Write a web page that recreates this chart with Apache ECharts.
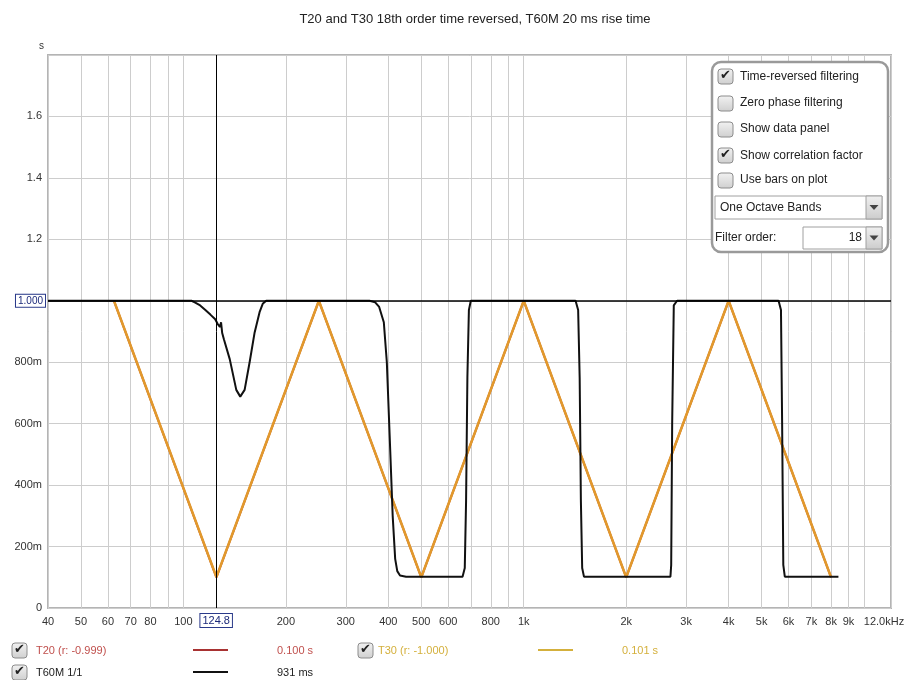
<!DOCTYPE html>
<html>
<head>
<meta charset="utf-8">
<script src="https://cdn.jsdelivr.net/npm/echarts@6/dist/echarts.min.js"></script>
<style>
  html, body { margin: 0; padding: 0; background: #fff; }
  #chart { width: 909px; height: 680px; }
</style>
</head>
<body>
<div id="chart"></div>
<script>
// octave band decay times (s)
const bandFreqs = [62.5, 125, 250, 500, 1000, 2000, 4000, 8000];
const t20Values = [1.0, 0.1, 1.0, 0.1, 1.0, 0.1, 1.0, 0.1];
const t30Values = [1.0, 0.101, 1.0, 0.1, 1.0, 0.1, 1.0, 0.1];

// T60M trace
const t60mFreqs = [40, 105.6, 108, 112, 116, 120, 124, 126, 128, 129, 130, 131.5, 136.8, 143, 146.9, 151.3, 156.5, 161.9, 167.4, 171, 175.1,
  352, 366, 376, 388, 396, 404, 412, 419, 425, 433, 451, 661, 671, 677, 683, 690, 699,
  1420, 1445, 1460, 1472, 1485, 1503, 2698, 2712, 2730, 2760, 2822, 5608, 5700, 5745, 5790, 5850, 8408];
const t60mValues = [1.0, 1.0, 0.995, 0.985, 0.97, 0.955, 0.94, 0.925, 0.915, 0.93, 0.895, 0.875, 0.81, 0.71, 0.688, 0.71, 0.8, 0.897, 0.963, 0.99, 1.0,
  1.0, 0.995, 0.98, 0.93, 0.8, 0.55, 0.3, 0.16, 0.12, 0.106, 0.102, 0.102, 0.13, 0.35, 0.75, 0.97, 1.0,
  1.0, 0.97, 0.75, 0.35, 0.13, 0.102, 0.102, 0.14, 0.6, 0.985, 1.0, 1.0, 0.97, 0.6, 0.14, 0.102, 0.102];

const gridFreqs = [40, 50, 60, 70, 80, 90, 100, 200, 300, 400, 500, 600, 700, 800, 900,
  1000, 2000, 3000, 4000, 5000, 6000, 7000, 8000, 9000, 10000, 12000];
const labelFreqs = [40, 50, 60, 70, 80, 100, 200, 300, 400, 500, 600, 800,
  1000, 2000, 3000, 4000, 5000, 6000, 7000, 8000, 9000, 12000];

const cursorFreq = 124.8;
const cursorLevel = 1.0;

const FONT = '"Liberation Sans", Arial, sans-serif';

const zip = (xs, ys) => xs.map((x, i) => [x, ys[i]]);

function checkbox(x, y, checked, z) {
  const children = [{
    type: 'rect', z: z,
    shape: { x: x, y: y, width: 15, height: 15, r: 3 },
    style: {
      fill: { type: 'linear', x: 0, y: 0, x2: 0, y2: 1,
        colorStops: [{ offset: 0, color: '#f2f2f2' }, { offset: 1, color: '#cfcfcf' }] },
      stroke: '#8c8c8c', lineWidth: 1
    }
  }];
  if (checked) {
    children.push({
      type: 'text', x: x + 7.5, y: y + 7, z: z + 1,
      style: { text: '\u2714', font: 'bold 13px "DejaVu Sans"', fill: '#222', align: 'center', verticalAlign: 'middle' }
    });
  }
  return { type: 'group', children: children };
}

function label(x, y, text, color, size, z) {
  return {
    type: 'text', x: x, y: y, z: z || 0,
    style: { text: text, fill: color, font: (size || 11) + 'px ' + FONT, verticalAlign: 'middle' }
  };
}

function arrowButton(x, y, h, z) {
  return {
    type: 'group',
    children: [
      { type: 'rect', z: z, shape: { x: x, y: y, width: 16, height: h },
        style: { fill: { type: 'linear', x: 0, y: 0, x2: 0, y2: 1,
          colorStops: [{ offset: 0, color: '#f0f0f0' }, { offset: 1, color: '#cccccc' }] }, stroke: '#a0a0a0' } },
      { type: 'polygon', z: z + 1, shape: { points: [[x + 3.5, y + h / 2 - 2.5], [x + 12.5, y + h / 2 - 2.5], [x + 8, y + h / 2 + 2.5]] },
        style: { fill: '#444' } }
    ]
  };
}

const PZ = 20;
const panel = [
  { type: 'rect', z: PZ - 1, shape: { x: 712, y: 62, width: 176, height: 190, r: 9 },
    style: { fill: '#fff', stroke: '#9a9a9a', lineWidth: 2.5 } },
  checkbox(718, 69, true, PZ), label(740, 77, 'Time-reversed filtering', '#222', 12, PZ),
  checkbox(718, 96, false, PZ), label(740, 103, 'Zero phase filtering', '#222', 12, PZ),
  checkbox(718, 122, false, PZ), label(740, 129, 'Show data panel', '#222', 12, PZ),
  checkbox(718, 148, true, PZ), label(740, 156, 'Show correlation factor', '#222', 12, PZ),
  checkbox(718, 173, false, PZ), label(740, 180, 'Use bars on plot', '#222', 12, PZ),
  { type: 'rect', z: PZ, shape: { x: 715, y: 196, width: 167, height: 23 }, style: { fill: '#fff', stroke: '#a0a0a0' } },
  label(720, 208, 'One Octave Bands', '#222', 12, PZ + 1),
  arrowButton(866, 196, 23, PZ + 1),
  label(715, 238, 'Filter order:', '#222', 12, PZ),
  { type: 'rect', z: PZ, shape: { x: 803, y: 227, width: 79, height: 22 }, style: { fill: '#fff', stroke: '#a0a0a0' } },
  { type: 'text', z: PZ + 1, x: 862, y: 238, style: { text: '18', fill: '#222', font: '12px ' + FONT, align: 'right', verticalAlign: 'middle' } },
  arrowButton(866, 227, 22, PZ + 1)
];

const legend = [
  checkbox(12, 643, true, 1), label(36, 651, 'T20 (r: -0.999)', '#c0504d'),
  { type: 'line', shape: { x1: 193, y1: 650, x2: 228, y2: 650 }, style: { stroke: '#a83232', lineWidth: 2 } },
  label(277, 651, '0.100 s', '#c0504d'),
  checkbox(358, 643, true, 1), label(378, 651, 'T30 (r: -1.000)', '#d4b03c'),
  { type: 'line', shape: { x1: 538, y1: 650, x2: 573, y2: 650 }, style: { stroke: '#d4b03c', lineWidth: 2 } },
  label(622, 651, '0.101 s', '#d4b03c'),
  checkbox(12, 665, true, 1), label(36, 673, 'T60M 1/1', '#222'),
  { type: 'line', shape: { x1: 193, y1: 672, x2: 228, y2: 672 }, style: { stroke: '#111', lineWidth: 2 } },
  label(277, 673, '931 ms', '#222')
];

const chart = echarts.init(document.getElementById('chart'));

const option = {
  animation: false,
  backgroundColor: '#fff',
  textStyle: { fontFamily: FONT },
  title: {
    text: 'T20 and T30 18th order time reversed, T60M 20 ms rise time',
    left: 470, top: 8, textAlign: 'center',
    textStyle: { fontSize: 13, fontWeight: 'normal', color: '#222', fontFamily: FONT }
  },
  grid: {
    left: 48, right: 18, top: 55, bottom: 72,
    show: true, borderColor: '#b4b4b4', borderWidth: 2
  },
  xAxis: {
    type: 'log', logBase: 10, min: 40, max: 12000,
    axisLine: { show: false },
    axisTick: { show: false, customValues: gridFreqs },
    splitLine: { show: true, lineStyle: { color: '#cdcdcd', width: 1 } },
    axisLabel: {
      customValues: labelFreqs,
      margin: 8, fontSize: 11, color: '#333',
      formatter: function (v) {
        if (v >= 11999) return '{end|12.0kHz}';
        if (v >= 1000) return Math.round(v / 1000) + 'k';
        return String(Math.round(v));
      },
      rich: { end: { fontSize: 11, color: '#333', padding: [0, 14, 0, 0] } }
    }
  },
  yAxis: {
    type: 'value', min: 0, max: 1.8, interval: 0.2,
    name: 's', nameGap: 4,
    nameTextStyle: { color: '#333', fontSize: 10, align: 'right', padding: [0, 4, 0, 0] },
    axisLine: { show: false },
    axisTick: { show: false },
    splitLine: { lineStyle: { color: '#cdcdcd', width: 1 } },
    axisLabel: {
      margin: 6, fontSize: 11, color: '#333',
      formatter: function (v) {
        if (v === 0) return '0';
        if (v < 0.99) return Math.round(v * 1000) + 'm';
        if (Math.abs(v - 1) < 0.01 || v > 1.79) return '';
        return v.toFixed(1);
      }
    }
  },
  series: [
    {
      name: 'T20', type: 'line', z: 2,
      data: zip(bandFreqs, t20Values),
      symbol: 'none',
      lineStyle: { color: '#a83232', width: 2 }
    },
    {
      name: 'T30', type: 'line', z: 3,
      data: zip(bandFreqs, t30Values),
      symbol: 'none',
      lineStyle: { color: '#e2992c', width: 2.5 }
    },
    {
      name: 'T60M', type: 'line', z: 4,
      data: zip(t60mFreqs, t60mValues),
      symbol: 'none',
      lineStyle: { color: '#111', width: 2 },
      markLine: {
        silent: true,
        symbol: ['none', 'none'],
        animation: false,
        data: [
          {
            yAxis: cursorLevel,
            lineStyle: { color: '#000', width: 1.5, type: 'solid' },
            label: {
              position: 'start', distance: 3, formatter: '1.000',
              color: '#1c2a7a', fontSize: 10, backgroundColor: '#fff',
              borderColor: '#2a3a8a', borderWidth: 1, padding: [1, 2, 1, 2]
            }
          },
          {
            xAxis: cursorFreq,
            lineStyle: { color: '#000', width: 1, type: 'solid' },
            label: {
              position: 'start', distance: 6, formatter: '124.8',
              color: '#1c2a7a', fontSize: 11, backgroundColor: '#fff',
              borderColor: '#2a3a8a', borderWidth: 1, padding: [1, 2, 1, 2]
            }
          }
        ]
      }
    }
  ],
  graphic: panel.concat(legend)
};

chart.setOption(option);
</script>
</body>
</html>
